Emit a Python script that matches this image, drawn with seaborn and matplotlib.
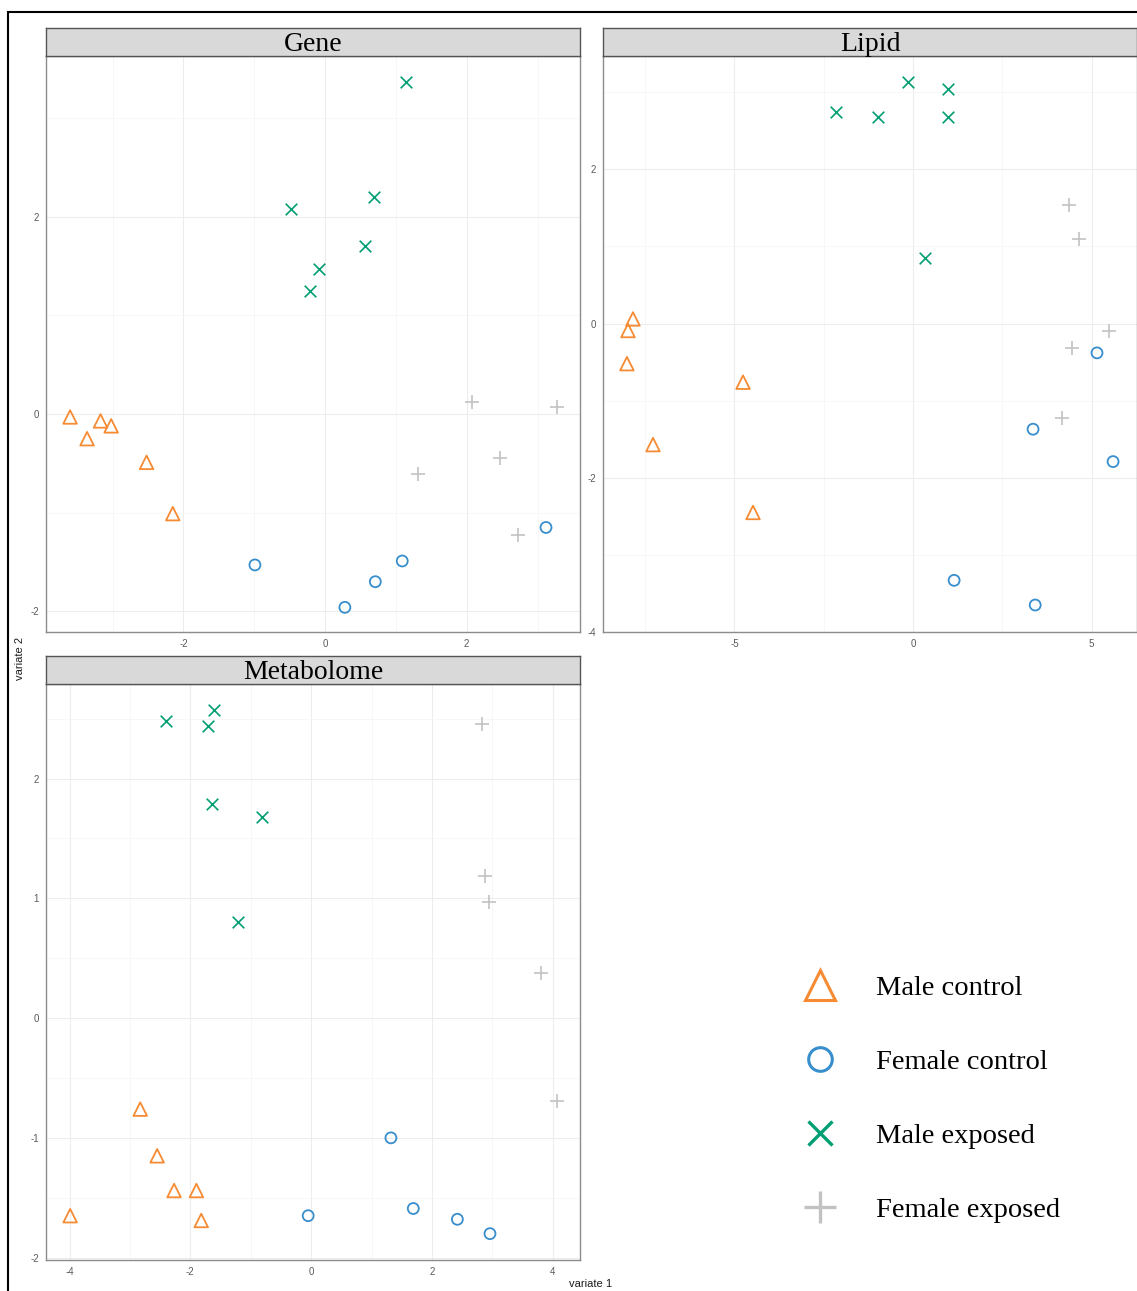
import numpy as np
import pandas as pd
import matplotlib.pyplot as plt
import seaborn as sns
from matplotlib.lines import Line2D
from matplotlib.patches import Rectangle

# groups and styles
groups = ["Male control", "Female control", "Male exposed", "Female exposed"]
colors = {"Male control": "#F68B33", "Female control": "#388ECC",
          "Male exposed": "#009E73", "Female exposed": "#C2C2C2"}
markers = {"Male control": "^", "Female control": "o",
           "Male exposed": "x", "Female exposed": "+"}

# Gene block (variate 1, variate 2) per group
gene_x = {"Male control": [-3.60, -3.36, -3.17, -3.02, -2.52, -2.15],
          "Female control": [-0.99, 0.28, 0.71, 1.09, 3.12],
          "Male exposed": [1.14, -0.48, 0.69, 0.57, -0.08, -0.21],
          "Female exposed": [2.08, 3.27, 1.31, 2.47, 2.73]}
gene_y = {"Male control": [-0.03, -0.25, -0.07, -0.12, -0.49, -1.01],
          "Female control": [-1.53, -1.96, -1.70, -1.49, -1.15],
          "Male exposed": [3.37, 2.08, 2.20, 1.70, 1.47, 1.25],
          "Female exposed": [0.12, 0.07, -0.61, -0.45, -1.23]}

# Lipid block
lipid_x = {"Male control": [-7.84, -7.98, -8.01, -7.28, -4.76, -4.48],
           "Female control": [1.15, 3.42, 3.36, 5.15, 5.60],
           "Male exposed": [-2.16, -0.98, -0.14, 0.98, 0.98, 0.34],
           "Female exposed": [4.37, 4.65, 5.49, 4.45, 4.17]}
lipid_y = {"Male control": [0.06, -0.09, -0.52, -1.57, -0.76, -2.45],
           "Female control": [-3.33, -3.65, -1.37, -0.38, -1.79],
           "Male exposed": [2.74, 2.68, 3.13, 3.04, 2.68, 0.85],
           "Female exposed": [1.54, 1.10, -0.09, -0.32, -1.22]}

# Metabolome block
met_x = {"Male control": [-3.99, -2.83, -2.55, -2.27, -1.90, -1.82],
         "Female control": [-0.05, 1.32, 1.69, 2.42, 2.96],
         "Male exposed": [-2.40, -1.71, -1.61, -1.64, -0.81, -1.21],
         "Female exposed": [2.83, 2.88, 2.95, 3.81, 4.07]}
met_y = {"Male control": [-1.65, -0.76, -1.15, -1.44, -1.44, -1.69],
         "Female control": [-1.65, -1.00, -1.59, -1.68, -1.80],
         "Male exposed": [2.48, 2.44, 2.57, 1.79, 1.68, 0.80],
         "Female exposed": [2.46, 1.19, 0.97, 0.38, -0.69]}

W, H = 1137, 1291
fig = plt.figure(figsize=(W / 100, H / 100), dpi=100)
sns.set_style("white")
serif = ["Liberation Serif", "DejaVu Serif"]
sans = ["Liberation Sans", "DejaVu Sans"]


def box(x0, y0, x1, y1):
    return [x0 / W, 1 - y1 / H, (x1 - x0) / W, (y1 - y0) / H]


def panel(rect, strip_rect, title, xs, ys, xlim, ylim, xmaj, xmin, ymaj, ymin):
    ax = fig.add_axes(box(*rect))
    for g in groups:
        d = pd.DataFrame({"x": xs[g], "y": ys[g]})
        if markers[g] in ("^", "o"):
            s = 95 if markers[g] == "^" else 62
            sns.scatterplot(data=d, x="x", y="y", ax=ax, marker=markers[g], s=s,
                            facecolor="none", edgecolor=colors[g], linewidth=1.3)
        else:
            s = 70 if markers[g] == "x" else 110
            sns.scatterplot(data=d, x="x", y="y", ax=ax, marker=markers[g], s=s,
                            color=colors[g], linewidth=1.2)
    ax.set_xlim(xlim)
    ax.set_ylim(ylim)
    ax.set_xticks(xmaj)
    ax.set_yticks(ymaj)
    ax.set_xticks(xmin, minor=True)
    ax.set_yticks(ymin, minor=True)
    ax.set_xticklabels([str(v) for v in xmaj])
    ax.set_yticklabels([str(v) for v in ymaj])
    ax.grid(True, which="major", color="#EDEDED", linewidth=0.8)
    ax.grid(True, which="minor", color="#F4F4F4", linewidth=0.5)
    ax.set_axisbelow(True)
    ax.tick_params(which="major", length=3, width=0.8, color="#333333",
                   labelsize=7, labelcolor="#5A5A5A", pad=2)
    ax.tick_params(which="minor", length=0)
    for lab in ax.get_xticklabels() + ax.get_yticklabels():
        lab.set_family(sans)
    for sp in ax.spines.values():
        sp.set_color("#8C8C8C")
        sp.set_linewidth(1.0)
    ax.set_xlabel("")
    ax.set_ylabel("")
    st = fig.add_axes(box(*strip_rect))
    st.set_facecolor("#D9D9D9")
    st.set_xticks([])
    st.set_yticks([])
    for sp in st.spines.values():
        sp.set_color("#555555")
        sp.set_linewidth(1.0)
    st.text(0.5, 0.42, title, ha="center", va="center", fontsize=20,
            family=serif, color="black", transform=st.transAxes)
    return ax


panel((46, 56, 580, 632), (46, 28, 580, 56), "Gene", gene_x, gene_y,
      (-3.94, 3.60), (-2.21, 3.63), [-2, 0, 2], [-3, -1, 1, 3],
      [-2, 0, 2], [-1, 1, 3])
panel((603, 56, 1137, 632), (603, 28, 1137, 56), "Lipid", lipid_x, lipid_y,
      (-8.68, 6.27), (-4.0, 3.47), [-5, 0, 5], [-7.5, -2.5, 2.5],
      [-4, -2, 0, 2], [-3, -1, 1, 3])
panel((46, 684, 580, 1260), (46, 656, 580, 684), "Metabolome", met_x, met_y,
      (-4.39, 4.45), (-2.02, 2.79), [-4, -2, 0, 2, 4], [-3, -1, 1, 3],
      [-2, -1, 0, 1, 2], [-1.5, -0.5, 0.5, 1.5, 2.5])

fig.text(20 / W, 1 - 658 / H, "variate 2", rotation=90, ha="center", va="center",
         fontsize=8, family=sans, color="#1A1A1A")
fig.text(591 / W, 1 - 1284 / H, "variate 1", ha="center", va="center",
         fontsize=8, family=sans, color="#1A1A1A")

# legend
handles = []
for g in groups:
    m = markers[g]
    if m in ("^", "o"):
        ms = 21 if m == "^" else 17
        h = Line2D([], [], linestyle="none", marker=m, markersize=ms,
                   markerfacecolor="none", markeredgecolor=colors[g], markeredgewidth=2.2)
    else:
        ms = 17.5 if m == "x" else 22.5
        h = Line2D([], [], linestyle="none", marker=m, markersize=ms,
                   color=colors[g], markeredgewidth=2.4)
    handles.append(h)
leg = fig.legend(handles, groups, loc="center left",
                 bbox_to_anchor=(773 / W, 1 - 1099 / H), frameon=False,
                 prop={"family": serif, "size": 20.5}, labelspacing=1.68,
                 handletextpad=1.2, handlelength=1.5)
for t in leg.get_texts():
    t.set_color("black")

# outer frame
fig.add_artist(Rectangle((8 / W, -0.01), 1.2, 1 - 12 / H + 0.01,
                         transform=fig.transFigure, fill=False,
                         edgecolor="black", linewidth=1.5))

fig.savefig("out.png", dpi=100)
